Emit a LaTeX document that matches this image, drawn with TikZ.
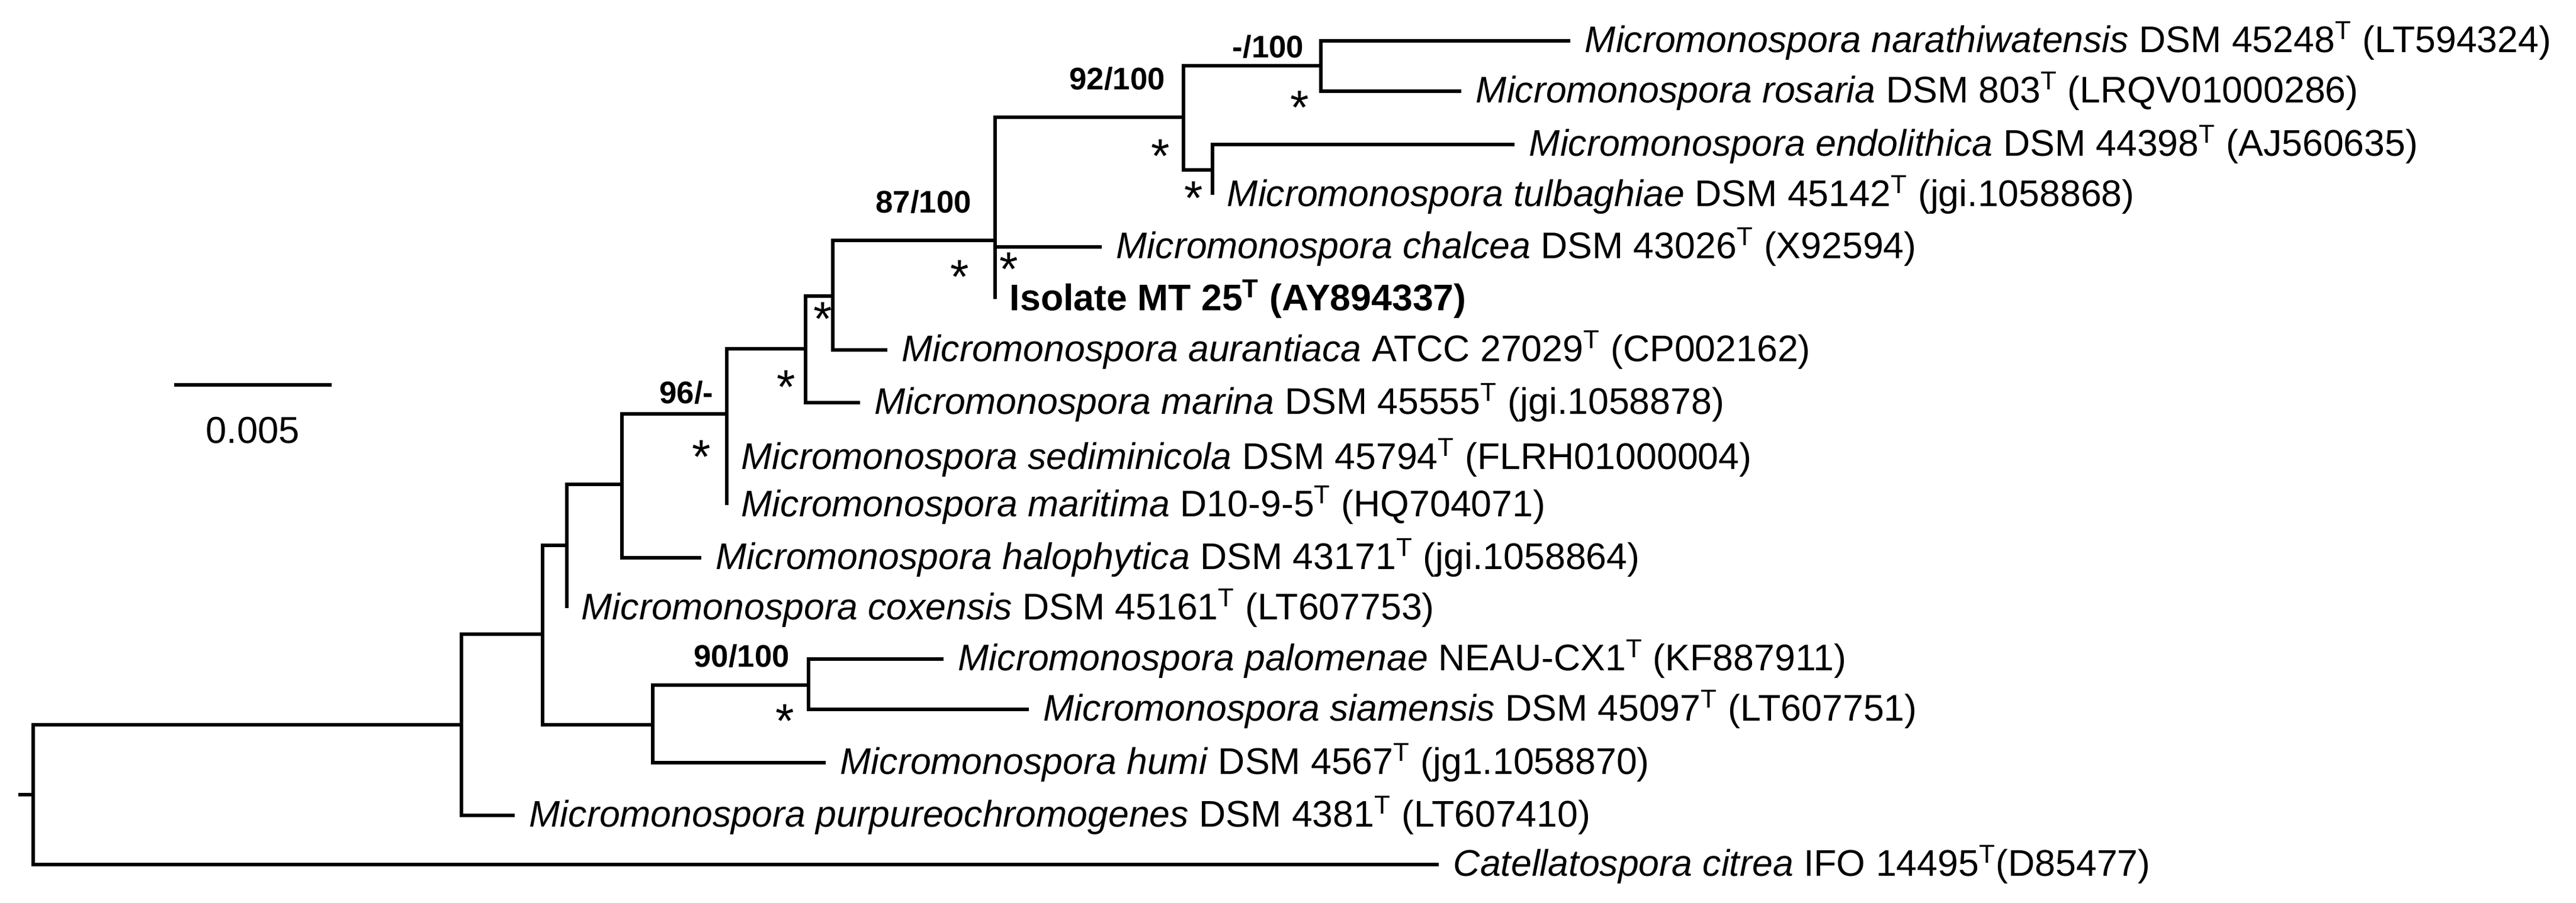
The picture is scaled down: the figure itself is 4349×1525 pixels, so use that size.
\documentclass[tikz,border=0pt]{standalone}
\usepackage{fontspec}
\setmainfont{Liberation Sans}
\newcommand{\lw}{1.6pt}
\newcommand{\taxon}[2]{\textit{#1} #2}
\newcommand{\typ}{\textsuperscript{T}}

\begin{document}
\begin{tikzpicture}[x=0.01cm, y=-0.01cm, line width=\lw,
    leaf/.style={anchor=west, inner xsep=0.22cm, inner ysep=0pt, font=\fontsize{17.8pt}{20pt}\selectfont},
    support/.style={font=\fontsize{15pt}{18pt}\selectfont\bfseries},
    star/.style={anchor=base, yshift=-0.46cm, inner sep=0pt, font=\fontsize{23pt}{26pt}\selectfont}]
  \useasboundingbox (0,0) rectangle (4349,1525);
  % internal nodes
  \coordinate (stub) at (31,1342);
  \coordinate (R) at (56,1342);
  \coordinate (A) at (779,1224);
  \coordinate (B) at (916,1071);
  \coordinate (C) at (957,921);
  \coordinate (M) at (1050,818);
  \coordinate (L) at (1227,699);
  \coordinate (K) at (1360,589);
  \coordinate (J) at (1406,500);
  \coordinate (H) at (1680,406);
  \coordinate (G) at (1998,198);
  \coordinate (E) at (2230,111);
  \coordinate (F) at (2047,287);
  \coordinate (D) at (1102,1224);
  \coordinate (N) at (1365,1157);
  % leaves
  \node[leaf] (narath) at (2651,69)  {\taxon{Micromonospora narathiwatensis}{DSM 45248\typ{} (LT594324)}};
  \node[leaf] (rosaria) at (2467,154) {\taxon{Micromonospora rosaria}{DSM 803\typ{} (LRQV01000286)}};
  \node[leaf] (endol) at (2557,244) {\taxon{Micromonospora endolithica}{DSM 44398\typ{} (AJ560635)}};
  \node[leaf] (tulb) at (2047,329) {\taxon{Micromonospora tulbaghiae}{DSM 45142\typ{} (jgi.1058868)}};
  \node[leaf] (chalcea) at (1860,417) {\taxon{Micromonospora chalcea}{DSM 43026\typ{} (X92594)}};
  \node[leaf, font=\fontsize{17.8pt}{20pt}\selectfont\bfseries] (isolate) at (1680,505) {Isolate MT 25\typ{} (AY894337)};
  \node[leaf] (auran) at (1498,591) {\taxon{Micromonospora aurantiaca}{ATCC 27029\typ{} (CP002162)}};
  \node[leaf] (marina) at (1452,680) {\taxon{Micromonospora marina}{DSM 45555\typ{} (jgi.1058878)}};
  \node[leaf] (sedim) at (1227,773) {\taxon{Micromonospora sediminicola}{DSM 45794\typ{} (FLRH01000004)}};
  \node[leaf] (marit) at (1227,853) {\taxon{Micromonospora maritima}{D10-9-5\typ{} (HQ704071)}};
  \node[leaf] (halo) at (1184,942) {\taxon{Micromonospora halophytica}{DSM 43171\typ{} (jgi.1058864)}};
  \node[leaf] (coxen) at (957,1027) {\taxon{Micromonospora coxensis}{DSM 45161\typ{} (LT607753)}};
  \node[leaf] (palom) at (1593,1113) {\taxon{Micromonospora palomenae}{NEAU-CX1\typ{} (KF887911)}};
  \node[leaf] (siam) at (1737,1198) {\taxon{Micromonospora siamensis}{DSM 45097\typ{} (LT607751)}};
  \node[leaf] (humi) at (1394,1288) {\taxon{Micromonospora humi}{DSM 4567\typ{} (jg1.1058870)}};
  \node[leaf] (purpu) at (869,1377) {\taxon{Micromonospora purpureochromogenes}{DSM 4381\typ{} (LT607410)}};
  \node[leaf] (catel) at (2429,1460) {\taxon{Catellatospora citrea}{IFO 14495\typ{}(D85477)}};
  % branches
  \draw (stub) -- (R);
  \foreach \p/\c in {R/A, A/B, B/C, C/M, M/L, L/K, K/J, J/H, H/G, G/E, G/F, B/D, D/N}
    \draw (\p) |- (\c);
  \foreach \p/\c in {E/narath, E/rosaria, F/endol, F/tulb, H/chalcea, H/isolate, J/auran,
                     K/marina, L/sedim, L/marit, M/halo, C/coxen, N/palom, N/siam,
                     D/humi, A/purpu, R/catel}
    \draw (\p) |- (\c.west);
  % support values
  \node[support] at (2141,79) {-/100};
  \node[support] at (1886,133) {92/100};
  \node[support] at (1559,341) {87/100};
  \node[support] at (1159,663) {96/-};
  \node[support] at (1252,1108) {90/100};
  \foreach \x/\y in {2194/163, 1959/245, 2015/316, 1620/449, 1703/436, 1389/520, 1327/635, 1184/753, 1325/1199}
    \node[star] at (\x,\y) {*};
  % scale bar
  \coordinate (bar1) at (294,650);
  \coordinate (bar2) at (560,650);
  \draw (bar1) -- (bar2);
  \node[font=\fontsize{18pt}{21pt}\selectfont] (barlabel) at (427,727) {0.005};
\end{tikzpicture}
\end{document}
